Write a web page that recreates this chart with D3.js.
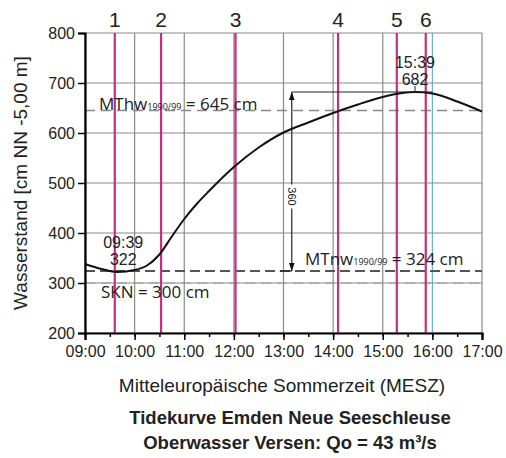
<!DOCTYPE html>
<html>
<head>
<meta charset="utf-8">
<script src="https://cdn.jsdelivr.net/npm/d3@7"></script>
<style>
  body { margin: 0; background: #fff; }
  text { font-family: "Liberation Sans", Arial, sans-serif; fill: #222; }
  .note { font-family: "Open Sans", sans-serif; }
</style>
</head>
<body>
<div id="chart"></div>
<script>
// tide curve
var times  = ["09:00","09:20","09:39","10:00","10:15","10:30","10:45","11:00","11:15","11:30","12:00",
              "12:30","13:00","13:30","14:00","14:30","15:00","15:20","15:39","16:00","16:30","17:00"];
var levels = [338, 328, 322, 326, 335, 357, 393, 428, 458, 484, 532,
              571, 601, 621, 640, 657, 672, 679, 682, 679, 663, 643];

// numbered events (magenta lines)
var eventNames = ["1", "2", "3", "4", "5", "6"];
var eventTimes = ["09:36", "10:32", "12:02", "14:06", "15:17", "15:52"];

// reference levels
var mthw = 645, mtnw = 324, skn = 300;
var lowTime = "09:39", lowLevel = 322;
var highTime = "15:39", highLevel = 682;
var rangeTime = "13:10", rangeValue = 360;

var yTicks = [200, 300, 400, 500, 600, 700, 800];

var parse = d3.timeParse("%H:%M");

var W = 506, H = 458;
var margin = {top: 33, right: 24, bottom: 125, left: 85};
var width = W - margin.left - margin.right,
    height = H - margin.top - margin.bottom;

var svg = d3.select("#chart").append("svg")
    .attr("width", W).attr("height", H);

var defs = svg.append("defs");
defs.append("marker").attr("id", "arr")
    .attr("viewBox", "0 0 10 10").attr("refX", 10).attr("refY", 5)
    .attr("markerWidth", 7).attr("markerHeight", 7).attr("orient", "auto-start-reverse")
    .append("path").attr("d", "M0,1.5L10,5L0,8.5Z").attr("fill", "#111");

var g = svg.append("g").attr("transform", "translate(" + margin.left + "," + margin.top + ")");

var x = d3.scaleTime().domain([parse("09:00"), parse("17:00")]).range([0, width]);
var y = d3.scaleLinear().domain([200, 800]).range([height, 0]);

// grid
var hours = x.ticks(d3.timeHour.every(1));
g.append("g").selectAll("line").data(hours).enter().append("line")
    .attr("x1", function (d) { return x(d); }).attr("x2", function (d) { return x(d); })
    .attr("y1", 0).attr("y2", height)
    .attr("stroke", function (d) {
        var h = d.getHours();
        if (h == 12) return "#7d8fb8";
        if (h == 16) return "#63b9c4";
        return "#8a8a8a";
    })
    .attr("stroke-width", 1.2);
g.append("g").selectAll("line").data(yTicks).enter().append("line")
    .attr("x1", 0).attr("x2", width)
    .attr("y1", function (d) { return y(d); }).attr("y2", function (d) { return y(d); })
    .attr("stroke", "#8a8a8a").attr("stroke-width", 1.2);

// reference lines
g.append("line").attr("x1", 0).attr("x2", width).attr("y1", y(mthw)).attr("y2", y(mthw))
    .attr("stroke", "#888").attr("stroke-width", 1.6).attr("stroke-dasharray", "10,6");
g.append("line").attr("x1", 0).attr("x2", width).attr("y1", y(skn)).attr("y2", y(skn))
    .attr("stroke", "#999").attr("stroke-width", 1.2).attr("stroke-dasharray", "10,6");
g.append("line").attr("x1", 0).attr("x2", width).attr("y1", y(mtnw)).attr("y2", y(mtnw))
    .attr("stroke", "#555").attr("stroke-width", 2).attr("stroke-dasharray", "10,5");

// magenta event lines
g.append("g").selectAll("line").data(eventTimes).enter().append("line")
    .attr("x1", function (d) { return x(parse(d)); }).attr("x2", function (d) { return x(parse(d)); })
    .attr("y1", 0).attr("y2", height)
    .attr("stroke", "#c4307f").attr("stroke-width", 2.2);
g.append("g").selectAll("text").data(eventNames).enter().append("text")
    .attr("x", function (d, i) { return x(parse(eventTimes[i])); })
    .attr("y", -6).attr("text-anchor", "middle")
    .style("font-size", "21px").text(function (d) { return d; });

// tidal range arrow
var ax = x(parse(rangeTime));
g.append("line").attr("x1", ax).attr("x2", x(parse("16:00")))
    .attr("y1", y(highLevel)).attr("y2", y(highLevel))
    .attr("stroke", "#222").attr("stroke-width", 1);
g.append("line").attr("x1", ax - 12).attr("x2", ax)
    .attr("y1", y(mtnw)).attr("y2", y(mtnw))
    .attr("stroke", "#222").attr("stroke-width", 1.2);
g.append("line").attr("x1", ax).attr("x2", ax)
    .attr("y1", y(highLevel)).attr("y2", y(mtnw))
    .attr("stroke", "#222").attr("stroke-width", 1.2)
    .attr("marker-start", "url(#arr)").attr("marker-end", "url(#arr)");
var ry = y((highLevel + mtnw) / 2) + 15;
g.append("rect").attr("x", ax - 6).attr("y", ry - 12).attr("width", 12).attr("height", 24).attr("fill", "#fff");
g.append("text").attr("transform", "translate(" + (ax - 4) + "," + ry + ") rotate(90)")
    .attr("text-anchor", "middle").style("font-size", "11px").text(rangeValue);

// curve
var line = d3.line()
    .x(function (d, i) { return x(parse(d)); })
    .y(function (d, i) { return y(levels[i]); })
    .curve(d3.curveMonotoneX);
g.append("path").datum(times).attr("d", line)
    .attr("fill", "none").attr("stroke", "#111").attr("stroke-width", 2);

// peak tick
g.append("line").attr("x1", x(parse(highTime))).attr("x2", x(parse(highTime)))
    .attr("y1", y(highLevel) - 6).attr("y2", y(highLevel) + 1)
    .attr("stroke", "#222").attr("stroke-width", 1);

// annotations
g.append("text").attr("x", x(parse(highTime))).attr("y", y(highLevel) - 24)
    .attr("text-anchor", "middle").style("font-size", "16px").text(highTime);
g.append("text").attr("x", x(parse(highTime))).attr("y", y(highLevel) - 7)
    .attr("text-anchor", "middle").style("font-size", "16px").text(highLevel);
g.append("text").attr("x", x(parse(lowTime)) + 6).attr("y", y(lowLevel) - 24)
    .attr("text-anchor", "middle").style("font-size", "16px").text(lowTime);
g.append("text").attr("x", x(parse(lowTime)) + 6).attr("y", y(lowLevel) - 7)
    .attr("text-anchor", "middle").style("font-size", "16px").text(lowLevel);

function refLabel(xp, yp, sub, val) {
    var t = g.append("text").attr("class", "note").attr("x", xp).attr("y", yp).style("font-size", "17px");
    if (sub) {
        t.append("tspan").text(sub[0]);
        t.append("tspan").style("font-size", "9px").text(sub[1]);
        t.append("tspan").text(" = " + val + " cm");
    } else {
        t.text(val);
    }
}
refLabel(14, y(mthw) - 1, ["MThw", "1990/99"], mthw);
refLabel(220, y(mtnw) - 6, ["MTnw", "1990/99"], mtnw);
refLabel(16, y(skn) + 15, null, "SKN = " + skn + " cm");

// axes
var xAxis = g.append("g").attr("transform", "translate(0," + height + ")")
    .call(d3.axisBottom(x).ticks(d3.timeHour.every(1)).tickFormat(d3.timeFormat("%H:%M")).tickSize(7).tickPadding(6));
g.append("g").attr("transform", "translate(0," + height + ")")
    .call(d3.axisBottom(x).ticks(d3.timeMinute.every(30)).tickFormat("").tickSize(4))
    .call(function (s) { s.select(".domain").remove(); s.selectAll("line").attr("stroke-width", 1.5); });
xAxis.select(".domain").attr("stroke-width", 2.2);
xAxis.selectAll(".tick line").attr("stroke-width", 1.5);
xAxis.selectAll(".tick text").style("font-size", "16px").attr("fill", "#222");

var yAxis = g.append("g")
    .call(d3.axisLeft(y).tickValues(yTicks).tickSize(7).tickPadding(3));
yAxis.select(".domain").attr("stroke-width", 2.2);
yAxis.selectAll(".tick line").attr("stroke-width", 1.5);
yAxis.selectAll(".tick text").style("font-size", "16px").attr("fill", "#222");

// titles
svg.append("text").attr("transform", "translate(27," + (margin.top + height / 2) + ") rotate(-90)")
    .attr("text-anchor", "middle").style("font-size", "19px").text("Wasserstand [cm NN -5,00 m]");
svg.append("text").attr("x", 282).attr("y", 392).attr("text-anchor", "middle")
    .style("font-size", "19px").text("Mitteleuropäische Sommerzeit (MESZ)");
svg.append("text").attr("x", 290).attr("y", 424).attr("text-anchor", "middle")
    .style("font-size", "18.5px").style("font-weight", "bold").text("Tidekurve Emden Neue Seeschleuse");
svg.append("text").attr("x", 290).attr("y", 449).attr("text-anchor", "middle")
    .style("font-size", "18.5px").style("font-weight", "bold").text("Oberwasser Versen: Qo = 43 m³/s");
</script>
</body>
</html>
